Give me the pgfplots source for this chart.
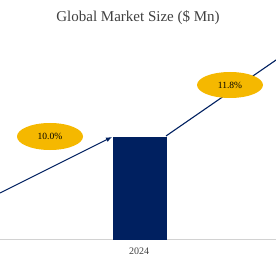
\documentclass[border=0pt]{standalone}
\usepackage{pgfplots}
\pgfplotsset{compat=1.18}
\usepackage{fontspec}
\setmainfont{Liberation Serif}
\usetikzlibrary{shapes.geometric,arrows.meta}
\definecolor{navy}{HTML}{002060}
\definecolor{gold}{HTML}{F5B800}
\definecolor{titlegray}{HTML}{404040}
\begin{document}
\begin{tikzpicture}
\begin{axis}[name=ax,
  scale only axis, width=276pt, height=239pt,
  xmin=0, xmax=276, ymin=0, ymax=239,
  axis line style={draw=none},
  axis x line*=bottom, axis y line=none,
  xtick={139}, xticklabels={2024},
  tick style={draw=none},
  xticklabel style={font=\fontsize{10}{12}\selectfont, text=titlegray, yshift=-5pt},
  clip=true,
]
\draw[gray!35, line width=0.8pt] (axis cs:0,0) -- (axis cs:276,0);
\addplot[ybar, bar width=53pt, fill=navy, draw=navy] coordinates {(139.5,102)};
\addplot[navy, line width=1.1pt, -{Latex[length=6pt,width=5pt]}] coordinates {(0,46) (112,102)};
\addplot[navy, line width=1.1pt, -{Latex[length=6pt,width=5pt]}] coordinates {(166,103) (292,190)};
\node[ellipse, fill=gold, minimum width=66pt, minimum height=27pt, inner sep=0pt, font=\fontsize{9.5}{11}\selectfont] at (axis cs:50,102.5) {10.0\%};
\node[ellipse, fill=gold, minimum width=66pt, minimum height=26pt, inner sep=0pt, font=\fontsize{9.5}{11}\selectfont] at (axis cs:230,154) {11.8\%};
\node[font=\fontsize{15}{17}\selectfont, text=titlegray] at (axis cs:138,221) {Global Market Size (\$ Mn)};
\end{axis}
\pgfresetboundingbox
\path (ax.south west) ++(0,-21pt) rectangle (ax.north east);
\end{tikzpicture}
\end{document}
